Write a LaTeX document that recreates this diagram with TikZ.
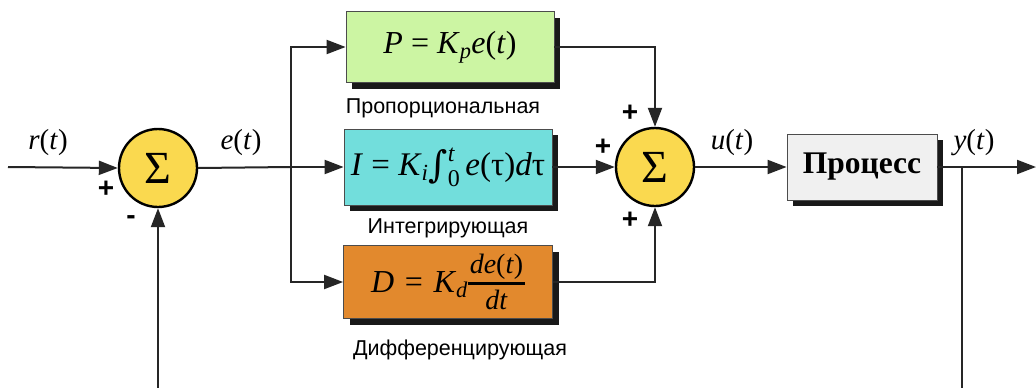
\RequirePackage{fix-cm}
\documentclass[tikz,border=0pt]{standalone}
\usepackage{fontspec}
\setmainfont{Liberation Serif}
\newfontfamily\labelfont{Liberation Sans}
\newfontfamily\intfont{DejaVu Serif}
\usetikzlibrary{arrows.meta,shadows}
\definecolor{sumyellow}{HTML}{FAD94F}
\definecolor{pgreen}{HTML}{CCF5A3}
\definecolor{icyan}{HTML}{72DEDC}
\definecolor{dorange}{HTML}{E2892D}
\definecolor{procgray}{HTML}{F0F0F0}
\begin{document}
\begin{tikzpicture}[x=1pt,y=-1pt,
  wire/.style={line width=2pt, draw=black!85},
  arr/.style={wire, -{Triangle[length=19pt,width=14pt]}},
  sumnode/.style={circle, draw=black, line width=2.4pt, fill=sumyellow, minimum size=78pt, inner sep=0pt, font=\fontsize{46}{46}\selectfont},
  blk/.style={draw=black!70, line width=0.8pt, inner sep=0pt, drop shadow={shadow xshift=6pt, shadow yshift=-6pt, fill=black, opacity=0.9}},
  lbl/.style={font=\fontsize{29}{29}\selectfont},
  captext/.style={font=\labelfont\fontsize{21.5}{21.5}\selectfont},
  sgn/.style={font=\labelfont\bfseries\fontsize{28}{28}\selectfont}
]
\useasboundingbox (0,0) rectangle (1036,388);
\fill[white] (0,0) rectangle (1036,388);

% summing junctions
\node[sumnode] (s1) at (158,168) {Σ};
\node[sumnode] (s2) at (655,167) {Σ};

% blocks
\node[blk, fill=pgreen, minimum width=208pt, minimum height=71pt, font=\fontsize{32}{32}\selectfont] (P) at (450,47)
  {\textit{P} = \textit{K}\textsubscript{\textit{p}}\textit{e}(\textit{t})};
\node[blk, fill=icyan, minimum width=208pt, minimum height=76pt, font=\fontsize{33}{33}\selectfont] (I) at (448,167)
  {\textit{I} = \textit{K}\textsubscript{\textit{i}}{\intfont\fontsize{37}{37}\selectfont\raisebox{-2pt}{∫}}\rlap{\raisebox{14pt}{\fontsize{24}{24}\selectfont\textit{t}}}\raisebox{-11pt}{\fontsize{24}{24}\selectfont 0}\,\textit{e}(τ)\textit{d}τ};
\node[blk, fill=dorange, minimum width=209pt, text height=47pt, text depth=26pt, text width=209pt, align=center, font=\fontsize{32}{32}\selectfont] (D) at (448,282)
  {\textit{D} = \textit{K}\textsubscript{\textit{d}}{\fontsize{28}{28}\selectfont\rlap{\raisebox{19pt}{\makebox[57pt][c]{\textit{de}(\textit{t})}}}\rlap{\raisebox{8pt}{\rule{57pt}{2.2pt}}}\raisebox{-17pt}{\makebox[57pt][c]{\textit{dt}}}}};
\node[blk, fill=procgray, minimum width=150pt, minimum height=66pt, font=\bfseries\fontsize{31.5}{31.5}\selectfont] (proc) at (862,167) {Процесс};

% captions
\node[captext] (capP) at (443,108) {Пропорциональная};
\node[captext] (capI) at (448,228) {Интегрирующая};
\node[captext] (capD) at (460,350) {Дифференцирующая};

% signal labels
\node[lbl] (rl) at (48,143) {\textit{r}(\textit{t})};
\node[lbl] (el) at (241,143) {\textit{e}(\textit{t})};
\node[lbl] (ul) at (732,143) {\textit{u}(\textit{t})};
\node[lbl] (yl) at (974,143) {\textit{y}(\textit{t})};

% signs
\node[sgn] (p1) at (106,189) {+};
\node[sgn] (m1) at (131,220) {-};
\node[sgn] (p2) at (630,113) {+};
\node[sgn] (p3) at (603,147) {+};
\node[sgn] (p4) at (630,220) {+};

% coordinates
\coordinate (in) at (8,167);
\coordinate (br) at (291,167);
\coordinate (out) at (1036,167);
\coordinate (ytap) at (962,167);
\coordinate (fb1) at (158,390);
\coordinate (fb2) at (962,390);

% connectors
\draw[arr] (in) -- (s1.west);
\draw[wire] (s1.east) -- (br);
\draw[arr] (br) |- (P.west);
\draw[arr] (br) -- (I.west);
\draw[arr] (br) |- (D.west);
\draw[arr] (P.east) -| (s2.north);
\draw[arr] (I.east) -- (s2.west);
\draw[arr] (D.east) -| (s2.south);
\draw[arr] (s2.east) -- (proc.west);
\draw[arr] (proc.east) -- (out);
\draw[wire] (ytap) -- (fb2);
\draw[arr] (fb1) -- (s1.south);
\end{tikzpicture}
\end{document}
